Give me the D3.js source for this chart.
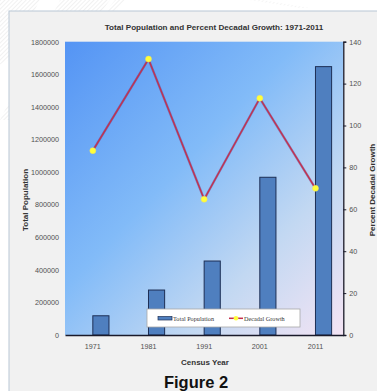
<!DOCTYPE html>
<html><head><meta charset="utf-8">
<script src="https://cdn.jsdelivr.net/npm/d3@7"></script>
<style>html,body{margin:0;padding:0;background:#fff;}svg{display:block;}</style>
</head><body>
<svg id="chart" width="377" height="391"></svg>
<script>
const years = ["1971","1981","1991","2001","2011"];
const population = [118000, 276000, 454000, 968000, 1647000];
const growth = [88.0, 131.7, 64.8, 113.0, 70.0];
const leftTicks = [0,200000,400000,600000,800000,1000000,1200000,1400000,1600000,1800000];
const rightTicks = [0,20,40,60,80,100,120,140];

const svg = d3.select("#chart");
const m = {l:65, r:343.3, t:41.7, b:335};

const defs = svg.append("defs");
const g1 = defs.append("linearGradient").attr("id","bg").attr("x1","0").attr("y1","0").attr("x2","1").attr("y2","1");
g1.append("stop").attr("offset","0").attr("stop-color","#5494f4");
g1.append("stop").attr("offset","0.42").attr("stop-color","#82bbf8");
g1.append("stop").attr("offset","0.72").attr("stop-color","#c2d8f2");
g1.append("stop").attr("offset","1").attr("stop-color","#f4e4f4");

const pat = defs.append("pattern").attr("id","hatch").attr("width",3).attr("height",3)
  .attr("patternUnits","userSpaceOnUse").attr("patternTransform","rotate(45)");
pat.append("line").attr("x1",0).attr("y1",0).attr("x2",0).attr("y2",3).attr("stroke","#d8d8d8").attr("stroke-width",1);

// watermark stripes
[[ -10,0, 40,0, 8,60, -10,70 ],[60,0,110,0,20,120,0,120],[115,0,125,0,100,30,92,30]].forEach(p=>{
  svg.append("polygon").attr("points",[[p[0],p[1]],[p[2],p[3]],[p[4],p[5]],[p[6],p[7]]].map(q=>q.join(",")).join(" "))
    .attr("fill","url(#hatch)").attr("opacity",0.7);
});
svg.append("path").attr("d","M250,0 L262,0 L310,8 L300,8 Z").attr("fill","url(#hatch)").attr("opacity",0.5);

// figure panel
svg.append("rect").attr("x",9).attr("y",11).attr("width",400).attr("height",400)
  .attr("fill","#f1f1f1").attr("stroke","#b9c7d6").attr("stroke-width",1);

const x = d3.scaleBand().domain(years).range([m.l, m.r]).padding(0);
const yL = d3.scaleLinear().domain([0,1800000]).range([m.b, m.t]);
const yR = d3.scaleLinear().domain([0,140]).range([m.b, m.t]);
const cx = d => x(d) + x.bandwidth()/2;

// plot area
svg.append("rect").attr("x",m.l).attr("y",m.t).attr("width",m.r-m.l).attr("height",m.b-m.t).attr("fill","url(#bg)");

// bars
const bw = x.bandwidth()*0.29;
svg.append("g").selectAll("rect").data(years).join("rect")
  .attr("x", d => cx(d)).attr("width", bw)
  .attr("y", (d,i) => yL(population[i])).attr("height",(d,i)=> yL(0)-yL(population[i]))
  .attr("fill","#4f7fbf").attr("stroke","#1d2f55").attr("stroke-width",1);

// axes
const fontF = "'Liberation Sans', Arial, sans-serif";
const axL = svg.append("g").attr("transform",`translate(${m.l},0)`)
  .call(d3.axisLeft(yL).tickValues(leftTicks).tickSize(0).tickPadding(6).tickFormat(d3.format("d")));
axL.select(".domain").remove();
const axR = svg.append("g").attr("transform",`translate(${m.r},0)`)
  .call(d3.axisRight(yR).tickValues(rightTicks).tickSize(3).tickPadding(3).tickFormat(d3.format("d")));
axR.select(".domain").attr("stroke","#1a1a2a").attr("stroke-width",1.3);
axR.selectAll(".tick line").attr("stroke","#1a1a2a");
const axB = svg.append("g").attr("transform",`translate(0,${m.b})`)
  .call(d3.axisBottom(x).tickSize(0).tickPadding(9));
axB.select(".domain").attr("stroke","#1a1a2a").attr("stroke-width",1.3);
[axL,axR,axB].forEach(a=>a.selectAll("text").attr("font-family",fontF).attr("font-size",7.2).attr("fill","#505050"));

// line
const line = d3.line().x((d,i)=>cx(years[i])).y(d=>yR(d));
svg.append("path").datum(growth).attr("d",line).attr("fill","none")
  .attr("stroke","#7a2a70").attr("stroke-width",2.4).attr("opacity",0.5);
svg.append("path").datum(growth).attr("d",line).attr("fill","none")
  .attr("stroke","#c4304c").attr("stroke-width",1.3);
svg.append("g").selectAll("circle").data(growth).join("circle")
  .attr("cx",(d,i)=>cx(years[i])).attr("cy",d=>yR(d)).attr("r",3)
  .attr("fill","#ffff3a").attr("stroke","#f0e060").attr("stroke-width",0.5);

// titles
svg.append("text").attr("x",214).attr("y",29.5).attr("text-anchor","middle")
  .attr("font-family",fontF).attr("font-weight","bold").attr("font-size",8.1).attr("fill","#333")
  .text("Total Population and Percent Decadal Growth: 1971-2011");
svg.append("text").attr("x",205).attr("y",365).attr("text-anchor","middle")
  .attr("font-family",fontF).attr("font-weight","bold").attr("font-size",8).attr("fill","#333")
  .text("Census Year");
svg.append("text").attr("transform","translate(28,200) rotate(-90)").attr("text-anchor","middle")
  .attr("font-family",fontF).attr("font-weight","bold").attr("font-size",8).attr("fill","#333")
  .text("Total Population");
svg.append("text").attr("transform","translate(375,190) rotate(-90)").attr("text-anchor","middle")
  .attr("font-family",fontF).attr("font-weight","bold").attr("font-size",8).attr("fill","#333")
  .text("Percent Decadal Growth");
svg.append("text").attr("x",196).attr("y",388).attr("text-anchor","middle")
  .attr("font-family",fontF).attr("font-weight","bold").attr("font-size",16.5).attr("fill","#111")
  .text("Figure 2");

// legend
const lg = svg.append("g");
lg.append("rect").attr("x",147).attr("y",309).attr("width",153).attr("height",18)
  .attr("fill","#fff").attr("stroke","#a8a8a8").attr("stroke-width",0.8);
lg.append("rect").attr("x",158).attr("y",316.5).attr("width",14).attr("height",3.5)
  .attr("fill","#4f7fbf").attr("stroke","#1d2f55").attr("stroke-width",0.7);
lg.append("text").attr("x",173).attr("y",320.5).attr("font-family","'Liberation Serif', 'Times New Roman', serif")
  .attr("font-size",6.2).attr("fill","#333").text("Total Population");
lg.append("line").attr("x1",229).attr("x2",243).attr("y1",318.3).attr("y2",318.3).attr("stroke","#c4304c").attr("stroke-width",1.5);
lg.append("circle").attr("cx",236).attr("cy",318.3).attr("r",2.3).attr("fill","#ffff3a");
lg.append("text").attr("x",244).attr("y",320.5).attr("font-family","'Liberation Serif', 'Times New Roman', serif")
  .attr("font-size",6.2).attr("fill","#333").text("Decadal Growth");
</script>
</body></html>
